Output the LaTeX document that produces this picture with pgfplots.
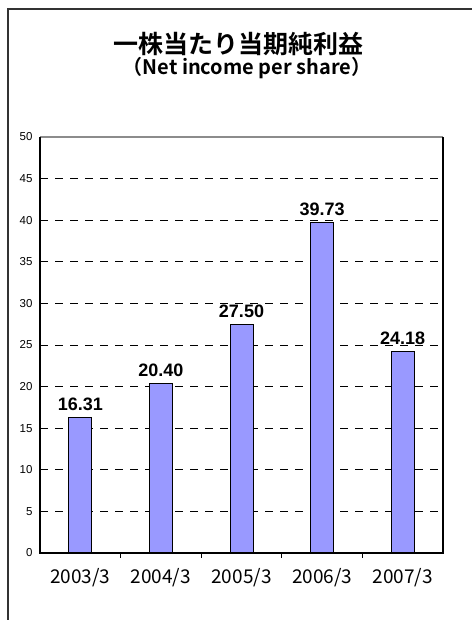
\documentclass[border=0pt]{standalone}
\usepackage{fontspec}
\setmainfont{Liberation Sans}
\newfontfamily\jp{Noto Sans CJK JP}[BoldFont={Noto Sans CJK JP Bold}]
\usepackage{pgfplots}
\pgfplotsset{compat=1.18}
\definecolor{barblue}{HTML}{9999FF}
\begin{document}
\begin{tikzpicture}[x=1pt,y=1pt]
\useasboundingbox (0,0) rectangle (471,620);
\draw[line width=1.8pt, black!80] (8,-30) rectangle (500,611);
\node[font=\jp\bfseries\fontsize{25}{28}\selectfont] at (238,576) {一株当たり当期純利益};
\node[font=\jp\bfseries\fontsize{20}{22}\selectfont] at (247,552) {（Net income per share）};
\begin{axis}[
  at={(40pt,67pt)}, anchor=south west,
  scale only axis, width=403pt, height=416pt,
  xmin=-0.5, xmax=4.5, ymin=0, ymax=50,
  ytick={0,5,...,50},
  xtick={0,1,2,3,4},
  xticklabels={2003/3,2004/3,2005/3,2006/3,2007/3},
  minor xtick={0.5,1.5,2.5,3.5},
  major tick length=0pt, minor tick length=5pt,
  tick align=inside, tick pos=left,
  tick style={black, line width=0.8pt},
  axis line style={draw=none},
  ymajorgrids,
  major grid style={black, line width=0.8pt, dash pattern=on 8pt off 7pt},
  yticklabel style={font=\fontsize{11.5}{12}\selectfont, xshift=-4pt},
  xticklabel style={font=\jp\fontsize{19}{20}\selectfont, yshift=-12pt},
  /pgf/number format/assume math mode=true,
  ybar, bar width=23pt,
  nodes near coords,
  nodes near coords style={font=\bfseries\fontsize{18}{20}\selectfont, yshift=3pt,
    /pgf/number format/fixed, /pgf/number format/fixed zerofill, /pgf/number format/precision=2},
  clip=false,
  after end axis/.code={
    \draw[black!45, line width=1.2pt] (rel axis cs:0,1) -- (rel axis cs:1,1);
    \draw[black, line width=1.3pt] (rel axis cs:0,1) -- (rel axis cs:0,0) -- (rel axis cs:1,0) -- (rel axis cs:1,1);
  },
]
\addplot[fill=barblue, draw=black, line width=0.7pt] coordinates {(0,16.31) (1,20.40) (2,27.50) (3,39.73) (4,24.18)};
\end{axis}
\end{tikzpicture}
\end{document}
